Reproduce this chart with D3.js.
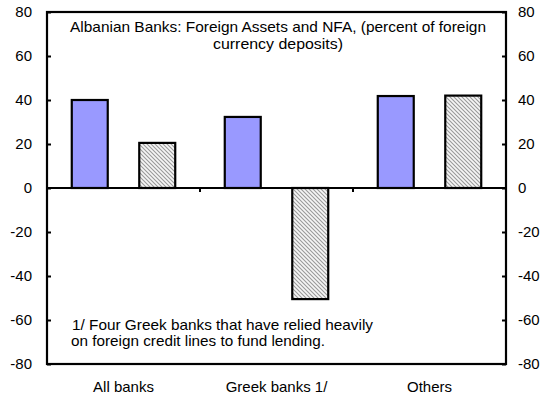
<!DOCTYPE html>
<html>
<head>
<meta charset="utf-8">
<script src="https://cdn.jsdelivr.net/npm/d3@7"></script>
<style>
  html, body { margin: 0; padding: 0; background: #fff; }
  svg { display: block; font-family: "Liberation Sans", Arial, sans-serif; }
</style>
</head>
<body>
<svg id="chart" width="547" height="398"></svg>
<script>
// Categories and series (percent of foreign currency deposits)
const categories = ["All banks", "Greek banks 1/", "Others"];
const seriesNames = ["Foreign assets", "NFA"];
const foreignAssets = [40, 32.3, 41.8];
const nfa = [20.5, -50.5, 42];
const yTicks = [-80, -60, -40, -20, 0, 20, 40, 60, 80];
const titleLines = ["Albanian Banks: Foreign Assets and NFA, (percent of foreign", "currency deposits)"];
const noteLines = ["1/ Four Greek banks that have relied heavily", "on foreign credit lines to fund lending."];

const svg = d3.select("#chart");
const m = { left: 47, right: 506, top: 12, bottom: 364 };

const y = d3.scaleLinear().domain([-80, 80]).range([m.bottom, m.top]);
const x0 = d3.scaleBand().domain(categories).range([m.left, m.right]).padding(0);
const x1 = d3.scaleBand().domain(seriesNames).range([0, x0.bandwidth()])
  .paddingInner(0.467).paddingOuter(0.367);

// Fine diagonal hatch fill
const defs = svg.append("defs");
const pat = defs.append("pattern")
  .attr("id", "hatch").attr("patternUnits", "userSpaceOnUse")
  .attr("width", 4).attr("height", 4);
pat.append("rect").attr("width", 4).attr("height", 4).attr("fill", "#f6f6f6");
pat.append("path").attr("d", "M-1,-1 l6,6 M-1,3 l2,2 M3,-1 l2,2")
  .attr("stroke", "#9a9a9a").attr("stroke-width", 1.1);

const fills = { "Foreign assets": "#9999ff", "NFA": "url(#hatch)" };
const data = categories.map((c, i) => ({
  cat: c,
  vals: [
    { s: "Foreign assets", v: foreignAssets[i] },
    { s: "NFA", v: nfa[i] }
  ]
}));

// Bars
const g = svg.append("g");
g.selectAll("g.cat").data(data).join("g")
  .attr("class", "cat")
  .attr("transform", d => `translate(${x0(d.cat)},0)`)
  .selectAll("rect").data(d => d.vals).join("rect")
  .attr("x", d => x1(d.s))
  .attr("width", x1.bandwidth())
  .attr("y", d => y(Math.max(0, d.v)))
  .attr("height", d => Math.abs(y(d.v) - y(0)))
  .attr("fill", d => fills[d.s])
  .attr("stroke", "#000")
  .attr("stroke-width", 2.2);

// Plot frame
svg.append("rect")
  .attr("x", m.left).attr("y", m.top)
  .attr("width", m.right - m.left).attr("height", m.bottom - m.top)
  .attr("fill", "none").attr("stroke", "#000").attr("stroke-width", 2.2);

// Zero line with category separator ticks
svg.append("line")
  .attr("x1", m.left).attr("x2", m.right)
  .attr("y1", y(0)).attr("y2", y(0))
  .attr("stroke", "#000").attr("stroke-width", 2.2);
svg.append("g").selectAll("line").data(categories.slice(1)).join("line")
  .attr("x1", d => x0(d)).attr("x2", d => x0(d))
  .attr("y1", y(0)).attr("y2", y(0) + 4)
  .attr("stroke", "#000").attr("stroke-width", 2);

// Left and right value axes (ticks pointing inward)
const leftAxis = d3.axisRight(y).tickValues(yTicks).tickSize(4).tickFormat("");
const rightAxis = d3.axisLeft(y).tickValues(yTicks).tickSize(4).tickFormat("");
svg.append("g").attr("transform", `translate(${m.left},0)`).call(leftAxis)
  .call(a => a.select(".domain").remove())
  .selectAll("line").attr("stroke-width", 2);
svg.append("g").attr("transform", `translate(${m.right},0)`).call(rightAxis)
  .call(a => a.select(".domain").remove())
  .selectAll("line").attr("stroke-width", 2);

const fontSize = 15;
svg.append("g").selectAll("text").data(yTicks).join("text")
  .attr("x", 32).attr("y", d => y(d)).attr("dy", "0.36em")
  .attr("text-anchor", "end").attr("font-size", fontSize).text(d => d);
svg.append("g").selectAll("text").data(yTicks).join("text")
  .attr("x", 518).attr("y", d => y(d)).attr("dy", "0.36em")
  .attr("text-anchor", "start").attr("font-size", fontSize).text(d => d);

// Category labels
svg.append("g").selectAll("text").data(categories).join("text")
  .attr("x", d => x0(d) + x0.bandwidth() / 2)
  .attr("y", 392)
  .attr("text-anchor", "middle").attr("font-size", fontSize).text(d => d);

// Title
const titleX = [70, 213];
const titleLen = [416, 130];
svg.append("g").selectAll("text").data(titleLines).join("text")
  .attr("x", (d, i) => titleX[i]).attr("y", (d, i) => 32 + i * 16.5)
  .attr("font-size", 14.5)
  .attr("textLength", (d, i) => titleLen[i]).attr("lengthAdjust", "spacingAndGlyphs")
  .text(d => d);

// Footnote
const noteLen = [301, 254];
svg.append("g").selectAll("text").data(noteLines).join("text")
  .attr("x", (d, i) => i === 0 ? 72 : 71).attr("y", (d, i) => 330 + i * 15.5)
  .attr("font-size", 14.5)
  .attr("textLength", (d, i) => noteLen[i]).attr("lengthAdjust", "spacingAndGlyphs")
  .text(d => d);
</script>
</body>
</html>
